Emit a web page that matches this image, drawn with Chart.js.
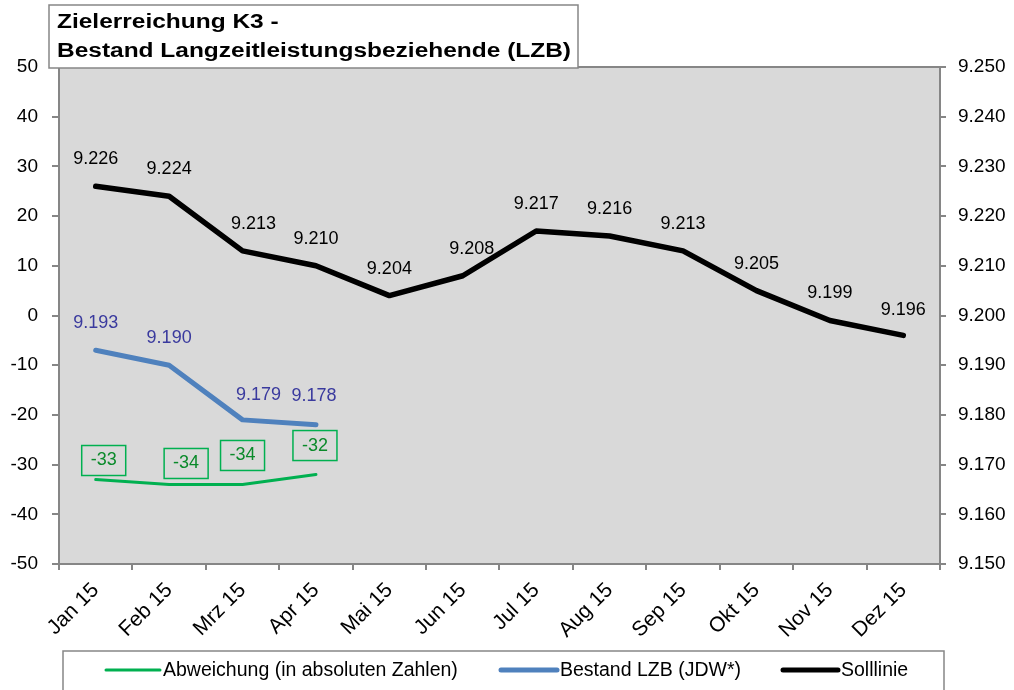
<!DOCTYPE html>
<html>
<head>
<meta charset="utf-8">
<script src="https://cdn.jsdelivr.net/npm/chart.js@4/dist/chart.umd.min.js"></script>
<style>
    html, body { margin: 0; padding: 0; background: #ffffff; }
    #wrap { width: 1014px; height: 690px; }
</style>
</head>
<body>
<div id="wrap"><canvas id="myChart" width="1014" height="690"></canvas></div>
<script>
// data
var months = ["Jan 15", "Feb 15", "Mrz 15", "Apr 15", "Mai 15", "Jun 15", "Jul 15", "Aug 15", "Sep 15", "Okt 15", "Nov 15", "Dez 15"];
var abweichung = [-33, -34, -34, -32];
var bestand = [9193, 9190, 9179, 9178];
var solllinie = [9226, 9224, 9213, 9210, 9204, 9208, 9217, 9216, 9213, 9205, 9199, 9196];
var leftTicks = [-50, -40, -30, -20, -10, 0, 10, 20, 30, 40, 50];
var rightTicks = [9150, 9160, 9170, 9180, 9190, 9200, 9210, 9220, 9230, 9240, 9250];

var titleLines = ["Zielerreichung K3 -", "Bestand Langzeitleistungsbeziehende (LZB)"];
var legendNames = ["Abweichung (in absoluten Zahlen)", "Bestand LZB (JDW*)", "Solllinie"];

var FONT = "'Liberation Sans', Arial, sans-serif";

// 9226 -> "9.226"
function deNum(v) {
    var neg = v < 0;
    var s = String(Math.abs(Math.round(v)));
    s = s.replace(/\B(?=(\d{3})+(?!\d))/g, ".");
    return (neg ? "-" : "") + s;
}

//plot background + frame + title box + legend
var decoPlugin = {
    id: "deco",
    beforeDatasetsDraw: function (chart) {
        var ctx = chart.ctx, a = chart.chartArea;
        ctx.save();
        ctx.fillStyle = "#d9d9d9";
        ctx.fillRect(a.left, a.top, a.right - a.left, a.bottom - a.top);
        ctx.strokeStyle = "#868686";
        ctx.lineWidth = 2;
        ctx.strokeRect(a.left, a.top, a.right - a.left, a.bottom - a.top);
        ctx.restore();
    },
    afterDraw: function (chart) {
        var ctx = chart.ctx;
        ctx.save();
        // title (text in the original is drawn a bit wide)
        ctx.fillStyle = "#ffffff";
        ctx.fillRect(49, 5, 529, 63);
        ctx.strokeStyle = "#868686";
        ctx.lineWidth = 1.5;
        ctx.strokeRect(49, 5, 529, 63);
        ctx.fillStyle = "#000000";
        ctx.font = "bold 20px " + FONT;
        ctx.textBaseline = "middle";
        ctx.textAlign = "left";
        var sx = 514 / ctx.measureText(titleLines[1]).width;
        ctx.save();
        ctx.translate(57, 0);
        ctx.scale(sx, 1);
        ctx.fillText(titleLines[0], 0, 22);
        ctx.fillText(titleLines[1], 0, 51);
        ctx.restore();

        // legend
        ctx.fillStyle = "#ffffff";
        ctx.fillRect(63, 651, 881, 45);
        ctx.strokeStyle = "#868686";
        ctx.lineWidth = 1.5;
        ctx.strokeRect(63, 651, 881, 45);
        var items = [
            { x: 106, w: 54, color: "#00b050", lw: 3 },
            { x: 501, w: 56, color: "#4f81bd", lw: 5 },
            { x: 783, w: 55, color: "#000000", lw: 5 }
        ];
        ctx.font = "19.5px " + FONT;
        for (var i = 0; i < items.length; i++) {
            ctx.strokeStyle = items[i].color;
            ctx.lineWidth = items[i].lw;
            ctx.lineCap = "round";
            ctx.beginPath();
            ctx.moveTo(items[i].x, 670);
            ctx.lineTo(items[i].x + items[i].w, 670);
            ctx.stroke();
            ctx.fillStyle = "#000000";
            ctx.fillText(legendNames[i], items[i].x + items[i].w + 3, 671);
        }
        ctx.restore();
    }
};

//value labels above the points
var labelPlugin = {
    id: "labels",
    afterDatasetsDraw: function (chart) {
        var ctx = chart.ctx;
        ctx.save();
        ctx.font = "18px " + FONT;
        ctx.textAlign = "center";
        ctx.textBaseline = "middle";
        chart.data.datasets.forEach(function (ds, di) {
            var meta = chart.getDatasetMeta(di);
            meta.data.forEach(function (pt, i) {
                var txt = deNum(ds.data[i]);
                var nx = ds.labelNudge ? ds.labelNudge[i][0] : 0;
                var ny = ds.labelNudge ? ds.labelNudge[i][1] : 0;
                var x = pt.x + nx;
                var y = pt.y - ds.labelOffset + ny;
                if (ds.boxed) {
                    ctx.strokeStyle = "#00b050";
                    ctx.lineWidth = 1.5;
                    ctx.strokeRect(x - 22, y - 15, 44, 30);
                }
                ctx.fillStyle = ds.labelColor;
                ctx.fillText(txt, x, y);
            });
        });
        ctx.restore();
    }
};

var myChart = document.getElementById("myChart").getContext("2d");
var k3Chart = new Chart(myChart, {
    type: "line",
    data: {
        labels: months,
        datasets: [{
            label: legendNames[0],
            data: abweichung,
            yAxisID: "y",
            borderColor: "#00b050",
            borderWidth: 3,
            labelColor: "#0a8a2a",
            labelOffset: 24,
            labelNudge: [[8, 5], [17, 3], [0, -5], [-1, -5]],
            boxed: true
        }, {
            label: legendNames[1],
            data: bestand,
            yAxisID: "y1",
            borderColor: "#4f81bd",
            borderWidth: 5,
            labelColor: "#3a3a9e",
            labelOffset: 27,
            labelNudge: [[0, 0], [0, 0], [16, 2], [-2, -2]]
        }, {
            label: legendNames[2],
            data: solllinie,
            yAxisID: "y1",
            borderColor: "#000000",
            borderWidth: 5.5,
            labelColor: "#000000",
            labelOffset: 27,
            labelNudge: [[0, 0], [0, 0], [11, 0], [0, 0], [0, 0], [9, 0], [0, 0], [0, 0], [0, 0], [0, 0], [0, 0], [0, 2]]
        }]
    },
    options: {
        responsive: false,
        animation: false,
        events: [],
        layout: { padding: { top: 67, left: 0, right: 0, bottom: 0 } },
        elements: {
            point: { radius: 0 },
            line: { tension: 0, borderCapStyle: "round", borderJoinStyle: "round" }
        },
        plugins: {
            legend: { display: false },
            title: { display: false },
            tooltip: { enabled: false }
        },
        scales: {
            x: {
                offset: true,
                grid: { offset: true, drawOnChartArea: false, drawTicks: true, tickLength: 6, color: "#868686", lineWidth: 2 },
                border: { display: false },
                ticks: { color: "#000000", font: { size: 21, family: FONT }, minRotation: 45, maxRotation: 45, padding: 8 },
                afterFit: function (scale) { scale.height = 126; }
            },
            y: {
                position: "left",
                min: -50,
                max: 50,
                grid: { drawOnChartArea: false, drawTicks: true, tickLength: 7, color: "#868686", lineWidth: 2 },
                border: { display: false },
                afterBuildTicks: function (scale) {
                    scale.ticks = leftTicks.map(function (v) { return { value: v }; });
                },
                ticks: { color: "#000000", font: { size: 19, family: FONT }, padding: 14, callback: function (v) { return deNum(v); } },
                afterFit: function (scale) { scale.width = 59; }
            },
            y1: {
                position: "right",
                min: 9150,
                max: 9250,
                grid: { drawOnChartArea: false, drawTicks: true, tickLength: 6, color: "#868686", lineWidth: 2 },
                border: { display: false },
                afterBuildTicks: function (scale) {
                    scale.ticks = rightTicks.map(function (v) { return { value: v }; });
                },
                ticks: { color: "#000000", font: { size: 19, family: FONT }, padding: 12, callback: function (v) { return deNum(v); } },
                afterFit: function (scale) { scale.width = 74; }
            }
        }
    },
    plugins: [decoPlugin, labelPlugin]
});
</script>
</body>
</html>
